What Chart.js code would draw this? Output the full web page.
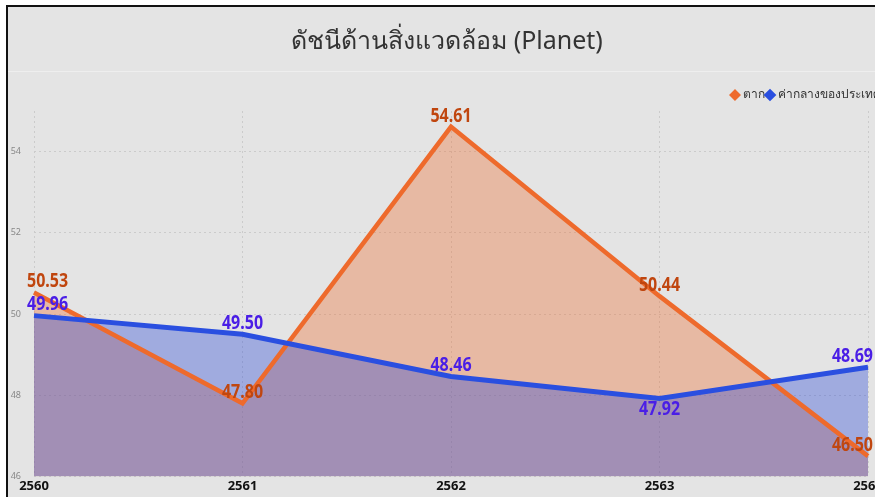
<!DOCTYPE html>
<html><head><meta charset="utf-8">
<script src="https://cdn.jsdelivr.net/npm/chart.js@4/dist/chart.umd.min.js"></script>
<style>
html,body{margin:0;padding:0;background:#fff;overflow:hidden;width:875px;height:497px;}
#frame{position:absolute;left:6px;top:5px;width:900px;height:500px;border-left:2px solid #111;border-top:2px solid #111;
background:linear-gradient(to bottom,#e4e4e4 0,#e4e4e4 64px,#eeeeee 64px,#eeeeee 65px,#e4e4e4 65px);}
#wrap{position:absolute;left:0;top:0;width:880px;height:490px;}
</style></head><body>
<div id="frame"><div id="wrap"><canvas id="c"></canvas></div></div>
<script>
const chartTitle = 'ดัชนีด้านสิ่งแวดล้อม (Planet)';
const years = ['2560', '2561', '2562', '2563', '2564'];
const takName = 'ตาก';
const takValues = [50.53, 47.80, 54.61, 50.44, 46.50];
const nationName = 'ค่ากลางของประเทศ';
const nationValues = [49.96, 49.50, 48.46, 47.92, 48.69];
const yMin = 46, yMax = 55, yStep = 2;

const FONT = '"Noto Sans", "Open Sans", sans-serif';

const labelPlugin = {
  id: 'valueLabels',
  afterDatasetsDraw(chart) {
    const ctx = chart.ctx, area = chart.chartArea;
    const sx = 0.8;
    chart.data.datasets.forEach((ds, i) => {
      const meta = chart.getDatasetMeta(i);
      meta.data.forEach((pt, j) => {
        ctx.save();
        ctx.font = 'bold 20px ' + FONT;
        ctx.fillStyle = ds.labelColor;
        ctx.textBaseline = 'middle';
        ctx.textAlign = 'center';
        const txt = ds.data[j].toFixed(2);
        const w = ctx.measureText(txt).width * sx;
        let x = Math.max(pt.x, area.left - 7 + w / 2);
        x = Math.min(x, area.right + 5 - w / 2);
        const below = ds.labelBelow && ds.labelBelow[j];
        ctx.translate(x, below ? pt.y + 11 : pt.y - 11);
        ctx.scale(sx, 1);
        ctx.fillText(txt, 0, 0);
        ctx.restore();
      });
    });
  }
};

new Chart(document.getElementById('c'), {
  type: 'line',
  data: {
    labels: years,
    datasets: [
      {
        label: takName, data: takValues, order: 1,
        borderColor: '#ee6a2c', backgroundColor: 'rgba(238,106,44,0.35)',
        borderWidth: 4.5, fill: 'start', tension: 0, pointRadius: 0,
        labelColor: '#c0460f'
      },
      {
        label: nationName, data: nationValues, order: 0,
        borderColor: '#2a4fe0', backgroundColor: 'rgba(39,68,213,0.36)',
        borderWidth: 5, fill: 'start', tension: 0, pointRadius: 0,
        labelColor: '#4a1ee6', labelBelow: [false, false, false, true, false]
      }
    ]
  },
  options: {
    responsive: true, maintainAspectRatio: false, animation: false,
    layout: { padding: { left: 2, right: 4, top: 0, bottom: 1 } },
    plugins: {
      filler: { propagate: false, drawTime: 'beforeDatasetsDraw' },
      tooltip: { enabled: false },
      title: {
        display: true, text: chartTitle, color: '#333',
        font: { family: FONT, size: 25, weight: 'normal' },
        padding: { top: 20, bottom: 29 }
      },
      legend: {
        position: 'top', align: 'end',
        labels: {
          usePointStyle: true, pointStyle: 'rectRot', boxWidth: 4, boxHeight: 4,
          color: '#333', font: { family: FONT, size: 12 }, padding: 3,
          sort: (a, b) => a.datasetIndex - b.datasetIndex
        }
      }
    },
    scales: {
      x: {
        offset: false,
        afterFit: (s) => { s.paddingLeft = 0; s.paddingRight = 20; },
        grid: { color: '#cbcbcb', drawTicks: false },
        border: { display: false, dash: [2, 3] },
        ticks: { color: '#111', font: { family: FONT, size: 13, weight: 'bold' }, padding: 2, maxRotation: 0 }
      },
      y: {
        min: yMin, max: yMax,
        afterFit: (s) => { s.width = 24; },
        grid: { color: '#cbcbcb', drawTicks: false },
        border: { display: false, dash: [2, 3] },
        ticks: { stepSize: yStep, includeBounds: false, color: '#888', font: { family: FONT, size: 9 }, padding: 13 }
      }
    }
  },
  plugins: [labelPlugin]
});
</script>
</body></html>
